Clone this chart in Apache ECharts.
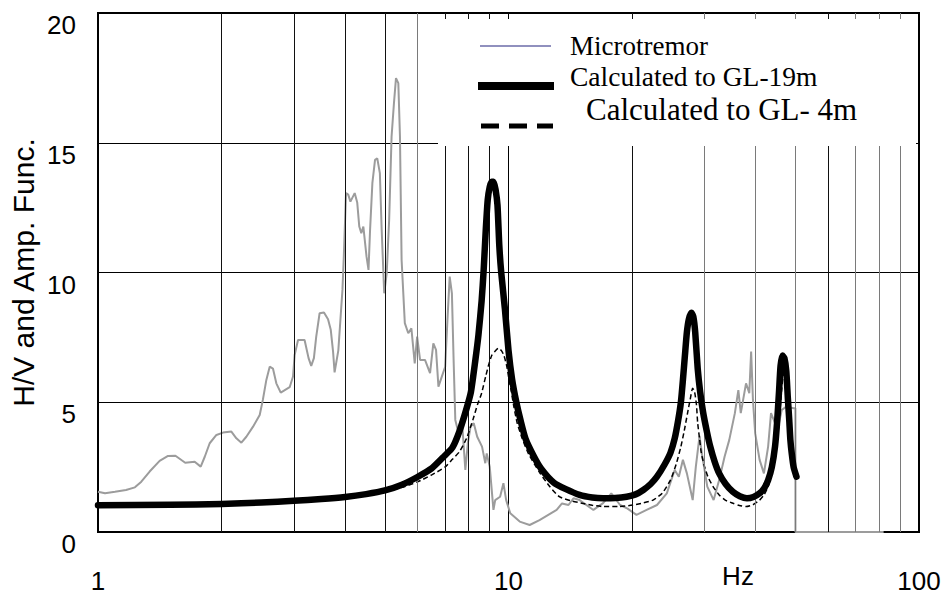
<!DOCTYPE html>
<html>
<head>
<meta charset="utf-8">
<script src="https://cdn.jsdelivr.net/npm/echarts@6/dist/echarts.min.js"></script>
<style>
html,body{margin:0;padding:0;background:#fff;}
#chart{width:948px;height:599px;}
</style>
</head>
<body>
<div id="chart"></div>
<script>
// ---- data ----
const seriesNames = ['Microtremor', 'Calculated to GL-19m', 'Calculated to GL- 4m'];
const xTickLabels = ['1', '10', '100'];
const yTickLabels = ['0', '5', '10', '15', '20'];
const minorGridFreqs = [2, 3, 4, 5, 6, 7, 8, 9, 20, 30, 40, 50, 60, 70, 80, 90];
const grayGridFreqs = [6, 30, 40, 50, 70, 80, 90];

const microFreq = [1.00, 1.04, 1.10, 1.17, 1.23, 1.275, 1.336, 1.413, 1.481, 1.544, 1.631, 1.72, 1.779, 1.82, 1.871, 1.943, 2.016, 2.113, 2.173, 2.235, 2.298, 2.386, 2.477, 2.521, 2.571, 2.62, 2.668, 2.719, 2.787, 2.93, 2.986, 3.013, 3.071, 3.186, 3.258, 3.307, 3.357, 3.401, 3.466, 3.552, 3.634, 3.69, 3.738, 3.77, 3.85, 3.895, 3.94, 3.97, 4.02, 4.07, 4.12, 4.22, 4.28, 4.33, 4.38, 4.43, 4.51, 4.56, 4.60, 4.66, 4.73, 4.79, 4.86, 4.91, 4.98, 5.05, 5.12, 5.19, 5.26, 5.32, 5.39, 5.44, 5.49, 5.59, 5.70, 5.80, 5.91, 5.99, 6.09, 6.26, 6.44, 6.56, 6.66, 6.75, 6.88, 7.01, 7.10, 7.19, 7.28, 7.35, 7.42, 7.56, 7.70, 7.85, 7.96, 8.08, 8.23, 8.39, 8.62, 8.78, 8.85, 9.0, 9.19, 9.28, 9.54, 9.72, 9.87, 10.1, 10.65, 11.26, 11.9, 13.1, 13.5, 14.0, 14.4, 14.9, 16.1, 17.0, 17.8, 18.7, 19.5, 20.5, 21.7, 23.0, 24.3, 25.4, 26.0, 26.6, 27.2, 28.1, 28.6, 29.2, 29.6, 30.5, 31.6, 32.6, 33.6, 34.5, 35.6, 36.3, 36.8, 37.9, 38.6, 39.0, 39.4, 39.9, 40.9, 41.9, 42.9, 43.6, 44.6, 45.4, 46.3, 47.5, 49.5, 50.0, 50.01, 82.0];
const microAmp = [1.55, 1.49, 1.55, 1.62, 1.72, 1.94, 2.33, 2.74, 2.93, 2.94, 2.67, 2.71, 2.52, 2.90, 3.42, 3.74, 3.83, 3.87, 3.61, 3.44, 3.67, 4.06, 4.51, 5.09, 5.86, 6.37, 6.30, 5.73, 5.37, 5.58, 5.99, 6.82, 7.40, 7.40, 6.70, 6.40, 6.70, 7.53, 8.43, 8.46, 8.20, 7.79, 6.95, 6.15, 7.0, 8.17, 9.33, 10.61, 13.06, 13.0, 12.73, 13.06, 12.7, 11.77, 11.51, 11.77, 10.61, 10.10, 11.64, 13.44, 14.34, 14.40, 13.83, 11.64, 9.20, 9.97, 12.03, 15.24, 16.53, 17.49, 17.3, 15.24, 10.49, 8.05, 7.66, 7.85, 6.50, 7.53, 6.63, 6.63, 6.12, 7.27, 7.02, 5.60, 5.99, 6.37, 8.17, 9.84, 9.20, 6.63, 4.32, 3.80, 4.32, 2.39, 3.42, 4.06, 4.19, 3.67, 3.29, 2.65, 3.03, 2.52, 0.85, 1.23, 1.36, 1.88, 1.23, 0.72, 0.40, 0.27, 0.46, 0.85, 1.10, 1.04, 1.30, 1.23, 0.85, 1.11, 1.49, 1.04, 0.90, 0.66, 0.85, 1.04, 1.49, 2.39, 2.13, 2.78, 2.26, 1.23, 2.52, 3.70, 3.00, 1.75, 1.23, 2.00, 2.90, 3.55, 4.58, 5.47, 4.58, 5.73, 5.35, 6.95, 5.09, 3.80, 2.78, 2.26, 3.29, 4.58, 4.20, 4.05, 4.70, 4.83, 4.77, 4.77, 0, 0];

const gl19Freq = [1, 1.5, 2, 2.5, 3, 3.5, 4, 4.5, 5, 5.5, 6, 6.5, 7, 7.3, 7.6, 7.9, 8.1, 8.3, 8.45, 8.6, 8.7, 8.8, 8.9, 9.0, 9.1, 9.2, 9.3, 9.4, 9.5, 9.6, 9.8, 10.0, 10.2, 10.45, 10.7, 11.0, 11.5, 12.0, 12.9, 13.8, 14.9, 16, 17, 18.2, 19.4, 20.4, 21.3, 22.2, 23, 24, 24.8, 25.4, 25.9, 26.3, 26.6, 26.9, 27.2, 27.5, 27.9, 28.2, 28.5, 28.9, 29.3, 29.8, 30.4, 31, 31.8, 32.6, 33.8, 35.2, 36.6, 38.1, 39.5, 40.9, 42.0, 42.9, 43.8, 44.6, 45.1, 45.6, 46.0, 46.5, 47.0, 47.5, 47.9, 48.3, 48.6, 49.0, 49.5, 50.3];
const gl19Amp = [1.03, 1.05, 1.08, 1.14, 1.2, 1.27, 1.35, 1.46, 1.6, 1.82, 2.12, 2.45, 2.95, 3.25, 3.9, 4.75, 5.4, 6.6, 7.6, 8.9, 10.1, 11.6, 12.8, 13.3, 13.5, 13.5, 13.2, 12.6, 11.0, 10.0, 8.6, 7.0, 5.9, 5.0, 4.3, 3.6, 2.95, 2.45, 1.9, 1.65, 1.43, 1.33, 1.30, 1.31, 1.36, 1.45, 1.62, 1.85, 2.13, 2.6, 3.05, 3.6, 4.3, 5.0, 5.86, 6.8, 7.7, 8.2, 8.45, 8.3, 7.7, 6.3, 5.4, 4.6, 3.9, 3.3, 2.7, 2.26, 1.85, 1.55, 1.38, 1.30, 1.35, 1.49, 1.7, 2.0, 2.5, 3.3, 4.2, 5.4, 6.4, 6.8, 6.7, 6.2, 5.2, 4.3, 3.55, 3.0, 2.5, 2.13];

const gl4Freq = [1, 1.5, 2, 2.5, 3, 3.5, 4, 4.5, 5, 5.5, 6, 6.5, 7, 7.3, 7.6, 7.9, 8.2, 8.4, 8.6, 8.8, 8.95, 9.1, 9.25, 9.45, 9.6, 9.75, 9.9, 10.0, 10.15, 10.3, 10.5, 10.8, 11.2, 11.9, 12.6, 13.3, 14.2, 15, 16, 17, 18.5, 20.1, 21.3, 22.5, 23.7, 24.8, 25.6, 26.3, 26.8, 27.3, 27.7, 28.1, 28.4, 28.7, 28.9, 29.2, 29.5, 30.0, 30.6, 31.5, 32.6, 33.8, 35.2, 36.5, 37.9, 39.4, 40.9, 42.0, 42.9, 43.8, 44.6, 45.2, 45.8, 46.3, 46.8, 47.3, 47.8, 48.3, 48.8, 49.5, 50.3];
const gl4Amp = [1.02, 1.04, 1.07, 1.12, 1.18, 1.25, 1.33, 1.43, 1.56, 1.72, 1.93, 2.2, 2.5, 2.8, 3.1, 3.6, 4.35, 4.9, 5.35, 6.0, 6.45, 6.8, 6.95, 7.08, 7.0, 6.8, 6.4, 6.0, 5.45, 4.85, 4.2, 3.6, 3.0, 2.3, 1.75, 1.36, 1.2, 1.12, 1.03, 0.98, 0.98, 1.04, 1.12, 1.23, 1.5, 2.0, 2.6, 3.29, 3.9, 4.58, 5.1, 5.54, 5.4, 4.9, 4.19, 3.6, 3.03, 2.55, 2.13, 1.75, 1.43, 1.22, 1.11, 1.02, 0.98, 1.05, 1.23, 1.45, 1.75, 2.25, 2.9, 3.6, 4.58, 5.5, 6.1, 6.1, 5.3, 4.3, 3.4, 2.5, 2.1];

const zip = (a, b) => a.map((x, i) => [x, b[i]]);

const chart = echarts.init(document.getElementById('chart'), null, {renderer: 'svg'});
const sans = '"Liberation Sans", Arial, sans-serif';
const serif = '"Liberation Serif", "Times New Roman", serif';

const option = {
  animation: false,
  backgroundColor: '#fff',
  grid: {left: 98, top: 13, width: 821, height: 519, show: true, borderColor: '#000', borderWidth: 2,
    backgroundColor: 'transparent', containLabel: false, outerBoundsMode: 'none'},
  xAxis: {
    type: 'log', logBase: 10, min: 1, max: 100,
    name: 'Hz', nameLocation: 'middle', nameGap: 31, nameMoveOverlap: false,
    nameTextStyle: {fontFamily: sans, fontSize: 26, color: '#000', padding: [0, 0, 0, 459]},
    axisLine: {show: true, lineStyle: {color: '#000', width: 2}},
    axisTick: {show: false},
    axisLabel: {fontFamily: sans, fontSize: 26, color: '#000', margin: 36,
      formatter: v => xTickLabels.includes(String(Math.round(v))) ? String(Math.round(v)) : ''},
    splitLine: {show: true, lineStyle: {color: '#000', width: 1}},
    minorTick: {show: false}, minorSplitLine: {show: false}
  },
  yAxis: {
    type: 'value', min: 0, max: 20, interval: 5,
    name: 'H/V and Amp. Func.', nameLocation: 'middle', nameGap: 60, nameMoveOverlap: false,
    nameTextStyle: {fontFamily: sans, fontSize: 30, color: '#000'},
    axisLine: {show: true, lineStyle: {color: '#000', width: 2}},
    axisTick: {show: false},
    axisLabel: {fontFamily: sans, fontSize: 26, color: '#000', margin: 22, verticalAlign: 'top', lineHeight: 24,
      formatter: v => yTickLabels.includes(String(v)) ? String(v) : ''},
    splitLine: {show: true, lineStyle: {color: '#000', width: 1}}
  },
  series: [
    {
      name: 'grid', type: 'line', data: [], z: 1, silent: true,
      markLine: {
        silent: true, symbol: ['none', 'none'], label: {show: false}, animation: false,
        data: minorGridFreqs.map(f => ({xAxis: f, lineStyle: {type: 'solid', width: 1, color: grayGridFreqs.includes(f) ? '#7a7a7a' : '#111'}}))
      }
    },
    {
      name: seriesNames[0], type: 'line', data: zip(microFreq, microAmp), showSymbol: false, z: 3,
      lineStyle: {color: '#9c9c9c', width: 2}
    },
    {
      name: seriesNames[2], type: 'line', data: zip(gl4Freq, gl4Amp), showSymbol: false, z: 4, smooth: 0.2,
      lineStyle: {color: '#000', width: 1.5, type: [5, 3]}
    },
    {
      name: seriesNames[1], type: 'line', data: zip(gl19Freq, gl19Amp), showSymbol: false, z: 5, smooth: 0.2,
      lineStyle: {color: '#000', width: 6.5, cap: 'round', join: 'round'}
    }
  ],
  graphic: [
    {type: 'rect', z: 50, shape: {x: 438, y: 19, width: 478, height: 127}, style: {fill: '#fff'}, silent: true},
    {type: 'line', z: 51, shape: {x1: 480, y1: 46, x2: 551, y2: 46}, style: {stroke: '#6b6ba8', lineWidth: 1.5}},
    {type: 'text', z: 51, x: 570, y: 46, style: {text: seriesNames[0], font: '27px ' + serif, lineHeight: 24, fill: '#000', verticalAlign: 'middle', align: 'left'}},
    {type: 'line', z: 51, shape: {x1: 478, y1: 86, x2: 554, y2: 86}, style: {stroke: '#000', lineWidth: 8}},
    {type: 'text', z: 51, x: 570, y: 76.5, style: {text: seriesNames[1], font: '27.5px ' + serif, lineHeight: 24, fill: '#000', verticalAlign: 'middle', align: 'left'}},
    {type: 'line', z: 51, shape: {x1: 481, y1: 126, x2: 553, y2: 126}, style: {stroke: '#000', lineWidth: 5, lineDash: [18, 10]}},
    {type: 'text', z: 51, x: 586, y: 109.5, style: {text: seriesNames[2], font: '31px ' + serif, lineHeight: 28, fill: '#000', verticalAlign: 'middle', align: 'left'}}
  ]
};
chart.setOption(option);
</script>
</body>
</html>
